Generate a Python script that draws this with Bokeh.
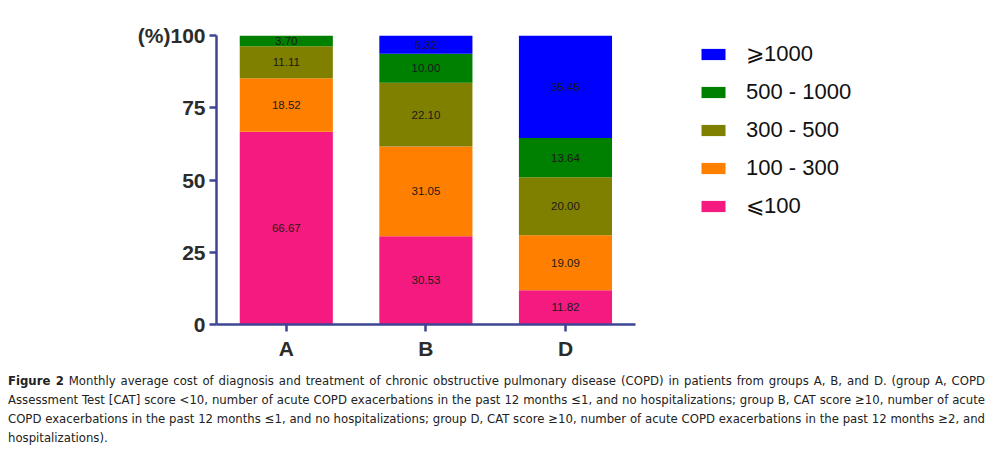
from bokeh.plotting import figure
from bokeh.models import Range1d, Legend, LegendItem, Div, ColumnDataSource, FixedTicker
from bokeh.layouts import column
from bokeh.embed import file_html
from bokeh.resources import INLINE
from bokeh.core.properties import value

groups = ["A", "B", "D"]
bands = ["le100", "b100_300", "b300_500", "b500_1000", "ge1000"]
band_labels = ["\u2A7D100", "100 - 300", "300 - 500", "500 - 1000", "\u2A7E1000"]
colors = ["#F41A80", "#FF8000", "#808000", "#008000", "#0000FF"]

le100 = [66.67, 30.53, 11.82]
b100_300 = [18.52, 31.05, 19.09]
b300_500 = [11.11, 22.10, 20.00]
b500_1000 = [3.70, 10.00, 13.64]
ge1000 = [0.0, 6.32, 35.45]
y_ticks = [0, 25, 50, 75, 100]
y_tick_labels = {100: "(%)100"}

# group slots on a numeric axis (one unit per group)
xpos = [i + 0.5 for i in range(len(groups))]

data = dict(x=xpos, groups=groups, le100=le100, b100_300=b100_300, b300_500=b300_500,
            b500_1000=b500_1000, ge1000=ge1000)
src = ColumnDataSource(data)

axis_color = "#3d4594"
tick_text = "#2b2b2b"

p = figure(x_range=Range1d(0, 4.9), y_range=Range1d(0, 100),
           width=990, height=362, output_backend="svg", toolbar_location=None,
           min_border_left=216, min_border_right=90, min_border_top=35, min_border_bottom=10)
p.outline_line_color = None
p.xgrid.grid_line_color = None
p.ygrid.grid_line_color = None

rs = p.vbar_stack(bands, x="x", width=0.667, color=colors, line_color=None, source=src)

# segment labels
series = [le100, b100_300, b300_500, b500_1000, ge1000]
lx, ly, lt = [], [], []
for gi in range(len(groups)):
    base = 0.0
    for s in series:
        v = s[gi]
        if v > 0:
            lx.append(xpos[gi])
            ly.append(base + v / 2)
            lt.append(f"{v:.2f}")
        base += v
p.text(x=lx, y=ly, text=lt, text_align="center", text_baseline="middle",
       text_font_size="11.5px", text_color="#1a1a1a", text_font=value("Liberation Sans"))

items = [LegendItem(label=band_labels[i], renderers=[rs[i]]) for i in reversed(range(5))]
legend = Legend(items=items, location=(482, 105), padding=0, margin=0, spacing=12,
                glyph_width=30, glyph_height=14, label_standoff=18,
                label_text_font_size="22px", label_text_font="Liberation Sans",
                label_text_color="#111111", border_line_color=None, background_fill_alpha=0)
p.add_layout(legend, "center")

for ax in (p.xaxis[0], p.yaxis[0]):
    ax.axis_line_color = axis_color
    ax.axis_line_width = 2.5
    ax.major_tick_line_color = axis_color
    ax.major_tick_line_width = 2.5
    ax.major_tick_out = 7
    ax.major_tick_in = 0
    ax.minor_tick_line_color = None
    ax.major_label_text_font = "Liberation Sans"
    ax.major_label_text_font_style = "bold"
    ax.major_label_text_font_size = "21px"
    ax.major_label_text_color = tick_text

p.yaxis.ticker = FixedTicker(ticks=y_ticks)
p.yaxis.major_label_overrides = y_tick_labels
p.yaxis.major_label_standoff = 4

p.xaxis.ticker = FixedTicker(ticks=xpos)
p.xaxis.major_label_overrides = {x: g for x, g in zip(xpos, groups)}
p.xaxis.bounds = (0, len(groups))
p.xaxis.major_label_standoff = 5

caption = Div(text=(
    '<div style="width:977px;font-family:\'Liberation Sans Narrow\',\'DejaVu Sans Condensed\',sans-serif;'
    'font-stretch:condensed;font-size:13px;line-height:19px;text-align:justify;color:#222;">'
    '<b>Figure&nbsp;2</b> Monthly average cost of diagnosis and treatment of chronic obstructive pulmonary disease (COPD) '
    'in patients from groups A, B, and D. (group A, COPD Assessment Test [CAT] score &lt;10, number of acute COPD '
    'exacerbations in the past 12 months \u22641, and no hospitalizations; group B, CAT score \u226510, number of acute '
    'COPD exacerbations in the past 12 months \u22641, and no hospitalizations; group D, CAT score \u226510, number of '
    'acute COPD exacerbations in the past 12 months \u22652, and hospitalizations).</div>'),
    width=977, margin=(9, 0, 0, 8))

layout = column(p, caption, spacing=0)
open("out.html", "w").write(file_html(layout, INLINE))
